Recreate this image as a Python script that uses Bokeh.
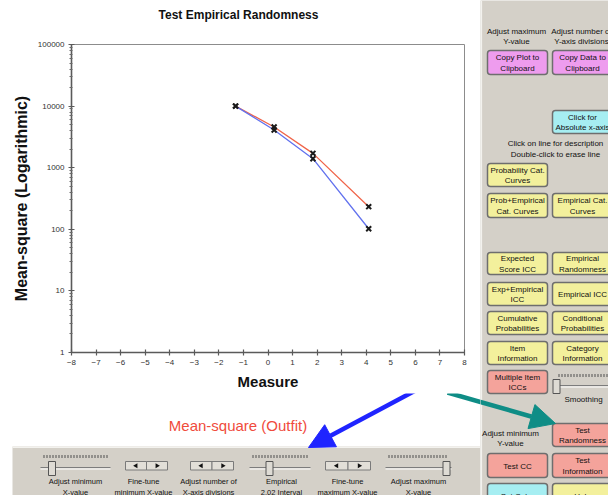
from bokeh.plotting import figure
from bokeh.layouts import row, column
from bokeh.models import Range1d, FixedTicker, NumeralTickFormatter, Arrow, NormalHead
from bokeh.embed import file_html
from bokeh.resources import INLINE
from bokeh.core.properties import value

# ---------------- chart data ----------------
measure = [-1.32, 0.25, 1.83, 4.1]
outfit_ms = [10000, 4570, 1710, 233]
infit_ms = [10000, 4100, 1400, 102]
x_ticks = list(range(-8, 9))
y_ticks = [1, 10, 100, 1000, 10000, 100000]
y_minor = [m * d for d in y_ticks[:-1] for m in range(2, 10)]

title_text = "Test Empirical Randomness"
x_label = "Measure"
y_label = "Mean-square (Logarithmic)"
line_desc = "Mean-square (Outfit)"

PANEL = "#d4d0c8"
FONT_NAME = "Liberation Sans"
FONT = value(FONT_NAME)
RED = "#f0654a"
BLUE_LINE = "#6272ee"


def blank(fig):
    fig.xgrid.visible = False
    fig.ygrid.visible = False
    fig.frame_align = False
    return fig


# ---------------- header (title) ----------------
hdr = blank(figure(width=480, height=36, x_range=Range1d(0, 480), y_range=Range1d(36, 0),
                   output_backend="svg", toolbar_location=None, min_border=0,
                   x_axis_location=None, y_axis_location=None, outline_line_color=None))
hdr.text(x=[238], y=[14.5], text=[title_text], text_align="center", text_baseline="middle",
         text_font=FONT, text_font_size="12px", text_font_style="bold", text_color="#111111")

# ---------------- main chart ----------------
p = figure(width=480, height=357, x_range=Range1d(-8, 8), y_range=Range1d(1, 100000),
           y_axis_type="log", output_backend="svg", toolbar_location=None,
           min_border_left=71, min_border_right=16, min_border_top=8, min_border_bottom=41)
p.frame_align = False
p.outline_line_color = "#8c8c8c"
p.outline_line_width = 1
p.xgrid.visible = False
p.ygrid.visible = False

p.xaxis.ticker = FixedTicker(ticks=x_ticks)
p.yaxis.ticker = FixedTicker(ticks=y_ticks, minor_ticks=y_minor)
p.yaxis.formatter = NumeralTickFormatter(format="0")

for ax in (p.xaxis[0], p.yaxis[0]):
    ax.axis_line_color = "#5a5a5a"
    ax.axis_line_width = 1.6
    ax.major_tick_line_color = "#5a5a5a"
    ax.major_tick_line_width = 1.2
    ax.major_tick_in = 3
    ax.major_tick_out = 3
    ax.major_label_text_font = FONT_NAME
    ax.major_label_text_font_size = "8px"
    ax.major_label_text_color = "#333333"
    ax.major_label_standoff = 4
    ax.axis_label_text_font = FONT_NAME
    ax.axis_label_text_font_style = "bold"
    ax.axis_label_text_color = "#111111"
    ax.axis_label_standoff = 5

p.xaxis.axis_label_text_font_size = "15px"
p.yaxis.axis_label_text_font_size = "16px"
p.xaxis.minor_tick_line_color = None
p.yaxis.minor_tick_line_color = "#6a6a6a"
p.yaxis.minor_tick_in = 1
p.yaxis.minor_tick_out = 2
p.xaxis.axis_label = x_label
p.yaxis.axis_label = y_label

p.line(measure, outfit_ms, line_color=RED, line_width=1.3)
p.line(measure, infit_ms, line_color=BLUE_LINE, line_width=1.3)
p.scatter(measure, outfit_ms, marker="x", size=7, line_color="#1a1a1a", line_width=2)
p.scatter(measure, infit_ms, marker="x", size=7, line_color="#1a1a1a", line_width=2)


# ---------------- helpers for GUI decoration ----------------
def label(fig, cx, cy, s, size="8px", color="#111111"):
    fig.text(x=[cx], y=[cy], text=[s], text_align="center", text_baseline="middle",
             text_font=FONT, text_font_size=size, text_color=color, text_line_height=1.15)


def slider(fig, x0, x1, y_tick, y_track, kx):
    fig.segment(x0=[x0], y0=[y_tick], x1=[x1], y1=[y_tick], line_color="#505050",
                line_width=3, line_dash="1 2")
    fig.segment(x0=[x0 - 3], y0=[y_track], x1=[x1 + 3], y1=[y_track], line_color="#7c7c7c", line_width=1.2)
    fig.segment(x0=[x0 - 3], y0=[y_track + 1.5], x1=[x1 + 3], y1=[y_track + 1.5], line_color="#ffffff", line_width=1)
    fig.quad(left=[kx - 3.5], right=[kx + 3.5], top=[y_track - 6], bottom=[y_track + 8],
             fill_color="#dedbd4", line_color="#555555", line_width=1)


def spinner(fig, x0, x1, y0, y1):
    mid = (x0 + x1) / 2
    fig.quad(left=[x0, mid], right=[mid, x1], top=[y0, y0], bottom=[y1, y1],
             fill_color="#e2dfd8", line_color="#7a7a7a", line_width=1)
    cy = (y0 + y1) / 2
    fig.scatter(x=[(x0 + mid) / 2], y=[cy], marker="triangle", angle=1.5708, size=5,
                fill_color="#111111", line_color=None)
    fig.scatter(x=[(mid + x1) / 2], y=[cy], marker="triangle", angle=-1.5708, size=5,
                fill_color="#111111", line_color=None)


TEAL = "#0f8d86"
BLUE = "#1f24ff"

# ---------------- lower area + bottom panel ----------------
low = blank(figure(width=480, height=102, x_range=Range1d(0, 480), y_range=Range1d(495, 393),
                   output_backend="svg", toolbar_location=None, min_border=0,
                   x_axis_location=None, y_axis_location=None, outline_line_color=None))
label(low, 237.5, 425, line_desc, size="15px", color="#f04b3c")
low.quad(left=[12], right=[480], top=[446], bottom=[495], fill_color=PANEL, line_color=None)
low.segment(x0=[12], y0=[446.8], x1=[480], y1=[446.8], line_color="#f3f2ee", line_width=1.5)

slider(low, 43, 107, 456, 467, 51.5)
slider(low, 252, 307, 456, 467, 269)
slider(low, 388, 448, 456, 467, 446)
spinner(low, 125, 167, 461, 469.5)
spinner(low, 190, 233, 461, 469.5)
spinner(low, 325, 370, 461, 469.5)
BL = "7.5px"
label(low, 75, 486.5, "Adjust minimum\nX-value", BL)
label(low, 143, 486.5, "Fine-tune\nminimum X-value", BL)
label(low, 208, 486.5, "Adjust number of\nX-axis divisions", BL)
label(low, 281, 486.5, "Empirical\n2.02 Interval", BL)
label(low, 347, 486.5, "Fine-tune\nmaximum X-value", BL)
label(low, 418, 486.5, "Adjust maximum\nX-value", BL)

low.add_layout(Arrow(end=NormalHead(size=25, fill_color=BLUE, line_color=BLUE),
                     x_start=415, y_start=390, x_end=308, y_end=447,
                     line_color=BLUE, line_width=4.5))
low.add_layout(Arrow(end=NormalHead(size=25, fill_color=TEAL, line_color=TEAL),
                     x_start=447, y_start=392, x_end=555, y_end=423,
                     line_color=TEAL, line_width=4.5))

# ---------------- right control panel ----------------
rp = blank(figure(width=128, height=495, x_range=Range1d(480, 608), y_range=Range1d(495, 0),
                  output_backend="svg", toolbar_location=None, min_border=0,
                  x_axis_location=None, y_axis_location=None, outline_line_color=None))
rp.background_fill_color = PANEL
rp.border_fill_color = PANEL
rp.segment(x0=[480.8], y0=[0], x1=[480.8], y1=[495], line_color="#f3f2ee", line_width=1.6)

YEL = "#f3f09c"
PINK = "#ee9cee"
CYAN = "#a6eef2"
SAL = "#f4a39b"
A = (487, 547)
B = (552, 612)
buttons = [
    ("Copy Plot to\nClipboard", A, 50, 74, PINK),
    ("Copy Data to\nClipboard", B, 50, 74, PINK),
    ("Click for\nAbsolute x-axis", B, 110, 133, CYAN),
    ("Probability Cat.\nCurves", A, 163, 186, YEL),
    ("Prob+Empirical\nCat. Curves", A, 193, 217, YEL),
    ("Empirical Cat.\nCurves", B, 193, 217, YEL),
    ("Expected\nScore ICC", A, 252, 274, YEL),
    ("Empirical\nRandomness", B, 252, 274, YEL),
    ("Exp+Empirical\nICC", A, 282, 305, YEL),
    ("Empirical ICC", B, 282, 305, YEL),
    ("Cumulative\nProbabilities", A, 311, 334, YEL),
    ("Conditional\nProbabilities", B, 311, 334, YEL),
    ("Item\nInformation", A, 341, 364, YEL),
    ("Category\nInformation", B, 341, 364, YEL),
    ("Multiple Item\nICCs", A, 370, 393, SAL),
    ("Test\nRandomness", B, 423, 446, SAL),
    ("Test CC", A, 453, 477, SAL),
    ("Test\nInformation", B, 453, 477, SAL),
    ("Set Color", A, 483, 507, CYAN),
    ("Help", B, 483, 507, YEL),
]
for txt, (l, r), t, b, c in buttons:
    rp.quad(left=[l], right=[r], top=[t], bottom=[b], fill_color=c, line_color="#6e6e6e",
            line_width=1.5, border_radius=3)
    label(rp, (l + r) / 2, (t + b) / 2 + 0.5, txt)

label(rp, 516, 36, "Adjust maximum\nY-value")
label(rp, 581, 36, "Adjust number of\nY-axis divisions")
label(rp, 555, 148.5, "Click on line for description\nDouble-click to erase line")
label(rp, 510, 438, "Adjust minimum\nY-value")
slider(rp, 558, 612, 375, 385, 556)
label(rp, 583, 399, "Smoothing")

rp.add_layout(Arrow(end=NormalHead(size=25, fill_color=TEAL, line_color=TEAL),
                    x_start=447, y_start=392, x_end=555, y_end=423,
                    line_color=TEAL, line_width=4.5))

layout = row(column(hdr, p, low), rp)
open("out.html", "w").write(file_html(layout, INLINE))
